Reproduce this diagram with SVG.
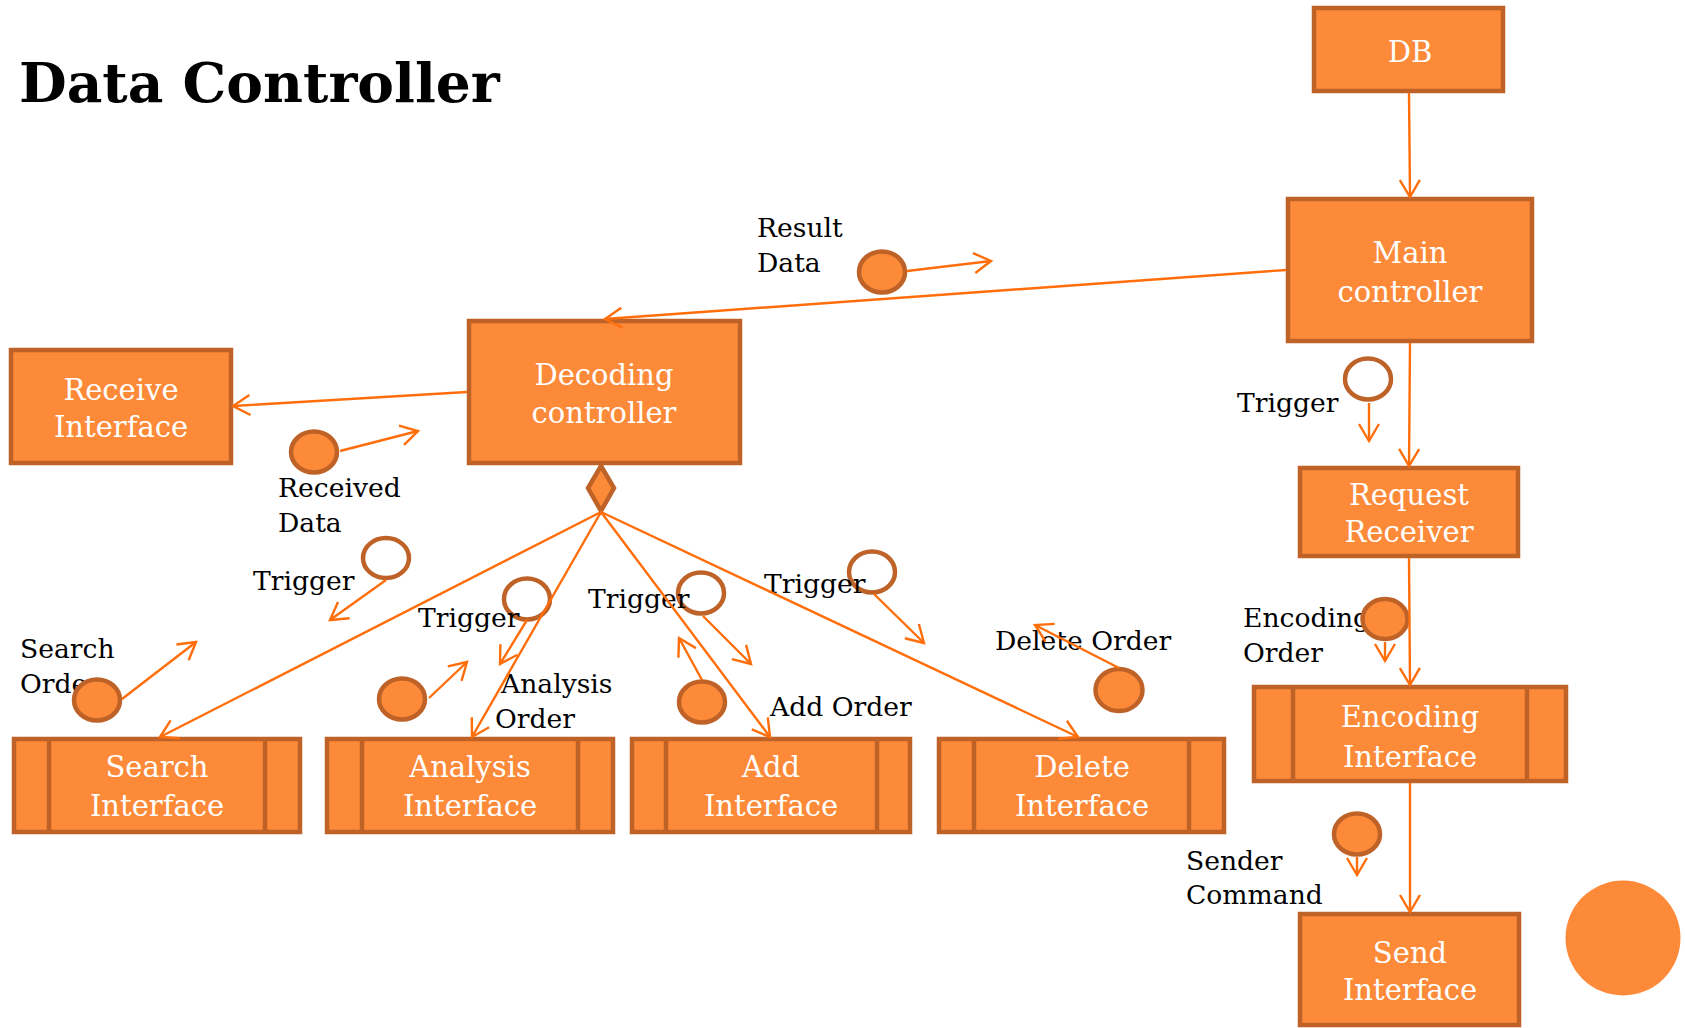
<svg xmlns="http://www.w3.org/2000/svg" width="1685" height="1028" viewBox="0 0 1685 1028">
<defs>
<style>
.box{fill:#FD8A38;stroke:#BE6228;stroke-width:4.5}
.div{stroke:#BE6228;stroke-width:4.5}
.bt{font-family:"DejaVu Serif","Liberation Serif",serif;font-size:29px;fill:#FFFFFF;text-anchor:middle}
.lb{font-family:"DejaVu Serif","Liberation Serif",serif;font-size:26.6px;fill:#000000}
.full{fill:#FD8A38;stroke:#BE6228;stroke-width:4.5}
.open{fill:#FFFFFF;stroke:#BE6228;stroke-width:4.5}
.cn{fill:none;stroke:#FF6E0A;stroke-width:2.4;marker-end:url(#ah)}
.title{font-family:"DejaVu Serif","Liberation Serif",serif;font-size:55px;font-weight:bold;fill:#000000}
</style>
<marker id="ah" markerUnits="userSpaceOnUse" viewBox="-20 -12 24 24" refX="0" refY="0" markerWidth="24" markerHeight="24" orient="auto" overflow="visible">
<path d="M-17,-10 L0,0 L-17,10" fill="none" stroke="#FF6E0A" stroke-width="2.4"/>
</marker>
</defs>
<rect width="1685" height="1028" fill="#FFFFFF"/>
<text class="title" x="19" y="102">Data Controller</text>

<g id="db"><rect class="box" x="1314" y="8" width="189" height="83"/><text class="bt" x="1410" y="62">DB</text></g>
<g id="main-controller"><rect class="box" x="1288" y="199" width="244" height="142"/><text class="bt" x="1410" y="263">Main</text><text class="bt" x="1410" y="302">controller</text></g>
<g id="decoding-controller"><rect class="box" x="469" y="321" width="271" height="142"/><text class="bt" x="604" y="385">Decoding</text><text class="bt" x="604" y="423">controller</text>
<path class="box" d="M601,466 L614,488 L601,511 L588,488 Z"/></g>
<g id="receive-interface"><rect class="box" x="11" y="350" width="220" height="113"/><text class="bt" x="121" y="400">Receive</text><text class="bt" x="121" y="437">Interface</text></g>
<g id="request-receiver"><rect class="box" x="1300" y="468" width="218" height="88"/><text class="bt" x="1409" y="505">Request</text><text class="bt" x="1409" y="542">Receiver</text></g>
<g id="encoding-interface"><rect class="box" x="1254" y="687" width="312" height="94"/><line class="div" x1="1293" y1="687" x2="1293" y2="781"/><line class="div" x1="1527" y1="687" x2="1527" y2="781"/><text class="bt" x="1410" y="727">Encoding</text><text class="bt" x="1410" y="767">Interface</text></g>
<g id="send-interface"><rect class="box" x="1300" y="914" width="219" height="111"/><text class="bt" x="1410" y="963">Send</text><text class="bt" x="1410" y="1000">Interface</text></g>
<g id="search-interface"><rect class="box" x="14" y="739" width="286" height="93"/><line class="div" x1="49" y1="739" x2="49" y2="832"/><line class="div" x1="265" y1="739" x2="265" y2="832"/><text class="bt" x="157" y="777">Search</text><text class="bt" x="157" y="816">Interface</text></g>
<g id="analysis-interface"><rect class="box" x="327" y="739" width="286" height="93"/><line class="div" x1="362" y1="739" x2="362" y2="832"/><line class="div" x1="578" y1="739" x2="578" y2="832"/><text class="bt" x="470" y="777">Analysis</text><text class="bt" x="470" y="816">Interface</text></g>
<g id="add-interface"><rect class="box" x="632" y="739" width="278" height="93"/><line class="div" x1="666" y1="739" x2="666" y2="832"/><line class="div" x1="877" y1="739" x2="877" y2="832"/><text class="bt" x="771" y="777">Add</text><text class="bt" x="771" y="816">Interface</text></g>
<g id="delete-interface"><rect class="box" x="939" y="739" width="285" height="93"/><line class="div" x1="974" y1="739" x2="974" y2="832"/><line class="div" x1="1189" y1="739" x2="1189" y2="832"/><text class="bt" x="1082" y="777">Delete</text><text class="bt" x="1082" y="816">Interface</text></g>

<g id="msg-result-data"><text class="lb" x="757" y="237">Result</text><text class="lb" x="757" y="272">Data</text><ellipse class="full" cx="882" cy="272" rx="23" ry="20.5"/></g>
<g id="msg-received-data"><text class="lb" x="278" y="497">Received</text><text class="lb" x="278" y="532">Data</text><ellipse class="full" cx="314" cy="452" rx="23" ry="20.5"/></g>
<g id="msg-trigger-1"><ellipse class="open" cx="386" cy="558" rx="23" ry="20"/><text class="lb" x="253" y="590">Trigger</text></g>
<g id="msg-search-order"><text class="lb" x="20" y="658">Search</text><text class="lb" x="20" y="693">Order</text><ellipse class="full" cx="97" cy="700" rx="23" ry="20.5"/></g>
<g id="msg-trigger-2"><ellipse class="open" cx="527" cy="599" rx="23" ry="20.5"/><text class="lb" x="418" y="627">Trigger</text></g>
<g id="msg-analysis-order"><text class="lb" x="501" y="693">Analysis</text><text class="lb" x="495" y="728">Order</text><ellipse class="full" cx="402" cy="699" rx="23" ry="20.5"/></g>
<g id="msg-trigger-3"><ellipse class="open" cx="701" cy="593" rx="23" ry="20.5"/><text class="lb" x="588" y="608">Trigger</text></g>
<g id="msg-add-order"><text class="lb" x="770" y="716">Add Order</text><ellipse class="full" cx="702" cy="702" rx="23" ry="20.5"/></g>
<g id="msg-trigger-4"><ellipse class="open" cx="872" cy="572" rx="23" ry="20.5"/><text class="lb" x="764" y="593">Trigger</text></g>
<g id="msg-delete-order"><text class="lb" x="995" y="650">Delete Order</text><ellipse class="full" cx="1119" cy="690" rx="23.5" ry="21"/></g>
<g id="msg-trigger-5"><ellipse class="open" cx="1368" cy="379" rx="23" ry="20.5"/><text class="lb" x="1237" y="412">Trigger</text></g>
<g id="msg-encoding-order"><text class="lb" x="1243" y="627">Encoding</text><text class="lb" x="1243" y="662">Order</text><ellipse class="full" cx="1385" cy="619" rx="22.5" ry="20"/></g>
<g id="msg-sender-command"><text class="lb" x="1186" y="870">Sender</text><text class="lb" x="1186" y="904">Command</text><ellipse class="full" cx="1357" cy="834" rx="23" ry="20.5"/></g>
<g id="big-circle"><circle cx="1623" cy="938" r="57.5" fill="#FD8A38"/></g>

<g id="connectors">
<line class="cn" x1="1409" y1="93" x2="1410" y2="197"/>
<line class="cn" x1="1286" y1="270" x2="605" y2="319"/>
<line class="cn" x1="467" y1="392" x2="233" y2="406"/>
<line class="cn" x1="1410" y1="343" x2="1409" y2="466"/>
<line class="cn" x1="1409" y1="558" x2="1410" y2="685"/>
<line class="cn" x1="1410" y1="783" x2="1410" y2="912"/>
<line class="cn" x1="601" y1="512" x2="160" y2="737"/>
<line class="cn" x1="601" y1="512" x2="472" y2="737"/>
<line class="cn" x1="601" y1="512" x2="770" y2="737"/>
<line class="cn" x1="601" y1="512" x2="1078" y2="737"/>
<line class="cn" x1="907" y1="271" x2="991" y2="261"/>
<line class="cn" x1="340" y1="451" x2="418" y2="431"/>
<line class="cn" x1="386" y1="580" x2="330" y2="620"/>
<line class="cn" x1="122" y1="699" x2="196" y2="642"/>
<line class="cn" x1="527" y1="620" x2="500" y2="664"/>
<line class="cn" x1="429" y1="698" x2="467" y2="662"/>
<line class="cn" x1="703" y1="616" x2="751" y2="664"/>
<line class="cn" x1="702" y1="680" x2="679" y2="638"/>
<line class="cn" x1="874" y1="594" x2="924" y2="643"/>
<line class="cn" x1="1119" y1="668" x2="1035" y2="625"/>
<line class="cn" x1="1369" y1="403" x2="1369" y2="441"/>
<line class="cn" x1="1385" y1="642" x2="1385" y2="661"/>
<line class="cn" x1="1357" y1="857" x2="1357" y2="875"/>
</g>
</svg>
